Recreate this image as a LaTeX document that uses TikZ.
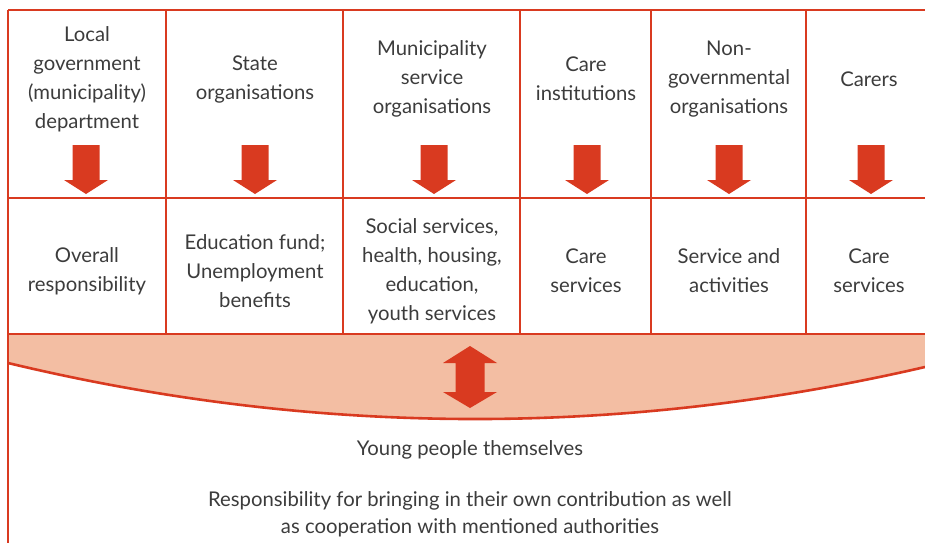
\documentclass[tikz,border=0pt]{standalone}
\usepackage{fontspec}
\setmainfont{Lato}
\definecolor{redline}{HTML}{D93A20}
\definecolor{bandfill}{HTML}{F3BEA3}
\definecolor{txt}{HTML}{3C3C3C}
\begin{document}
\begin{tikzpicture}[x=1pt,y=-1pt,
  lbl/.style={align=center, text=txt, font=\fontsize{20.3}{29}\selectfont, inner sep=0pt},
  lblb/.style={align=center, text=txt, font=\fontsize{20.3}{27}\selectfont, inner sep=0pt},
  gridline/.style={draw=redline, line width=2.6pt},
  blockfill/.style={fill=redline}]
\useasboundingbox (0,0) rectangle (925,543);
% band
\fill[bandfill] (8,334) -- (925,334) -- (925,367)
  .. controls (619.3,437.7) and (313.7,436.3) .. (8,363) -- cycle;
\draw[gridline] (925,367) .. controls (619.3,437.7) and (313.7,436.3) .. (8,363);
% grid
\draw[gridline] (8,10) -- (925,10);
\draw[gridline] (8,198) -- (925,198);
\draw[gridline] (8,334) -- (925,334);
\draw[gridline] (8,10) -- (8,543);
\foreach \x in {166,343,520,651,806} \draw[gridline] (\x,10) -- (\x,334);
% down arrows
\foreach \x in {86,255,434,587,729,871}
  \fill[blockfill] (\x-13.5,145) -- (\x+13.5,145) -- (\x+13.5,180) -- (\x+22,180)
     -- (\x,194) -- (\x-22,180) -- (\x-13.5,180) -- cycle;
% double arrow
\fill[blockfill] (470,346) -- (497,363) -- (484.5,363) -- (484.5,392) -- (497,392)
  -- (470,408) -- (443,392) -- (455.5,392) -- (455.5,363) -- (443,363) -- cycle;
% top row
\node[lbl] (t1) at (87,79) {Local\\government\\(municipality)\\department};
\node[lbl] (t2) at (255,79) {State\\organisations};
\node[lbl] (t3) at (432,79) {Municipality\\service\\organisations};
\node[lbl] (t4) at (586,79) {Care\\institutions};
\node[lbl] (t5) at (729,79) {Non-\\governmental\\organisations};
\node[lbl] (t6) at (869,79) {Carers};
% bottom row
\node[lbl] (b1) at (87,271) {Overall\\responsibility};
\node[lbl] (b2) at (255,271) {Education fund;\\Unemployment\\benefits};
\node[lbl] (b3) at (432,271) {Social services,\\health, housing,\\education,\\youth services};
\node[lbl] (b4) at (586,271) {Care\\services};
\node[lbl] (b5) at (729,271) {Service and\\activities};
\node[lbl] (b6) at (869,271) {Care\\services};
% below
\node[lbl] (y) at (470,450) {Young people themselves};
\node[lblb] (r) at (470,514) {Responsibility for bringing in their own contribution as well\\as cooperation with mentioned authorities};
\end{tikzpicture}
\end{document}
